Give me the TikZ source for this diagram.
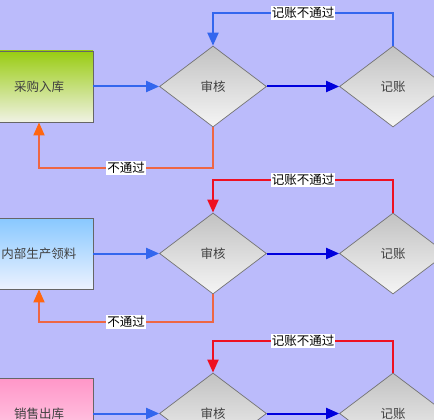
\documentclass[tikz,border=0pt]{standalone}
\usepackage{fontspec}
\setmainfont{Noto Sans CJK SC}
\usetikzlibrary{shapes.geometric,arrows.meta}
\definecolor{bgc}{HTML}{BBBBFB}
\definecolor{feedc}{HTML}{3366EE}
\definecolor{darkb}{HTML}{0000DD}
\definecolor{redc}{HTML}{EE1122}
\definecolor{orc}{HTML}{EE6644}
\definecolor{orhead}{HTML}{FF6611}
\tikzset{
  txt/.style={font=\fontsize{12.5}{14}\selectfont, text=black!75},
  boxnode/.style={txt, draw=black!60, line width=0.9pt, rectangle, minimum width=108pt, minimum height=71pt, inner sep=0pt},
  decnode/.style={txt, draw=black!55, line width=0.7pt, diamond, minimum width=107pt, minimum height=81pt, inner sep=0pt, shading=axis, top color=black!24, bottom color=black!4},
  lab/.style={fill=white, inner sep=1pt, font=\fontsize{12.5}{14}\selectfont, text=black},
  feed/.style={draw=feedc, line width=2pt, -{Triangle[length=13pt,width=11pt]}},
  pass/.style={draw=darkb, line width=2pt, -{Triangle[length=13pt,width=11pt]}},
  backtop/.style={line width=2pt, -{Triangle[length=13pt,width=11pt]}},
  backbot/.style={draw=orc, line width=2pt, -{Triangle[length=13pt,width=11pt,color=orhead]}},
}
\begin{document}
\begin{tikzpicture}[x=1pt,y=-1pt]
\useasboundingbox (0,0) rectangle (434,420);
\clip (0,0) rectangle (434,420);
\fill[bgc] (0,0) rectangle (434,420);

% row 1
\node[boxnode, shading=axis, top color={rgb,255:red,153;green,204;blue,17}, bottom color={rgb,255:red,240;green,242;blue,228}] (b1) at (39,86.5) {采购入库};
\node[decnode] (d1) at (213,86.5) {审核};
\node[decnode] (d2) at (393,86.5) {记账};
\draw[feed] (b1.east) -- (d1.west);
\draw[pass] (d1.east) -- (d2.west);
\coordinate (t1) at (393,13);
\draw[backtop, draw=feedc] (d2.north) -- (t1) -| node[pos=0.25, lab]{记账不通过} (d1.north);
\coordinate (u1) at (213,168);
\draw[backbot] (d1.south) -- (u1) -| node[pos=0.25, lab]{不通过} (b1.south);

% row 2
\node[boxnode, shading=axis, top color={rgb,255:red,136;green,200;blue,255}, bottom color={rgb,255:red,236;green,242;blue,255}] (b2) at (39,253.5) {内部生产领料};
\node[decnode] (d3) at (213,253.5) {审核};
\node[decnode] (d4) at (393,253.5) {记账};
\draw[feed] (b2.east) -- (d3.west);
\draw[pass] (d3.east) -- (d4.west);
\coordinate (t2) at (393,180);
\draw[backtop, draw=redc] (d4.north) -- (t2) -| node[pos=0.25, lab]{记账不通过} (d3.north);
\coordinate (u2) at (213,322);
\draw[backbot] (d3.south) -- (u2) -| node[pos=0.25, lab]{不通过} (b2.south);

% row 3
\node[boxnode, shading=axis, top color={rgb,255:red,255;green,150;blue,200}, bottom color={rgb,255:red,255;green,215;blue,235}] (b3) at (39,413.5) {销售出库};
\node[decnode] (d5) at (213,413.5) {审核};
\node[decnode] (d6) at (393,413.5) {记账};
\draw[feed] (b3.east) -- (d5.west);
\draw[pass] (d5.east) -- (d6.west);
\coordinate (t3) at (393,341);
\draw[backtop, draw=redc] (d6.north) -- (t3) -| node[pos=0.25, lab]{记账不通过} (d5.north);
\end{tikzpicture}
\end{document}
